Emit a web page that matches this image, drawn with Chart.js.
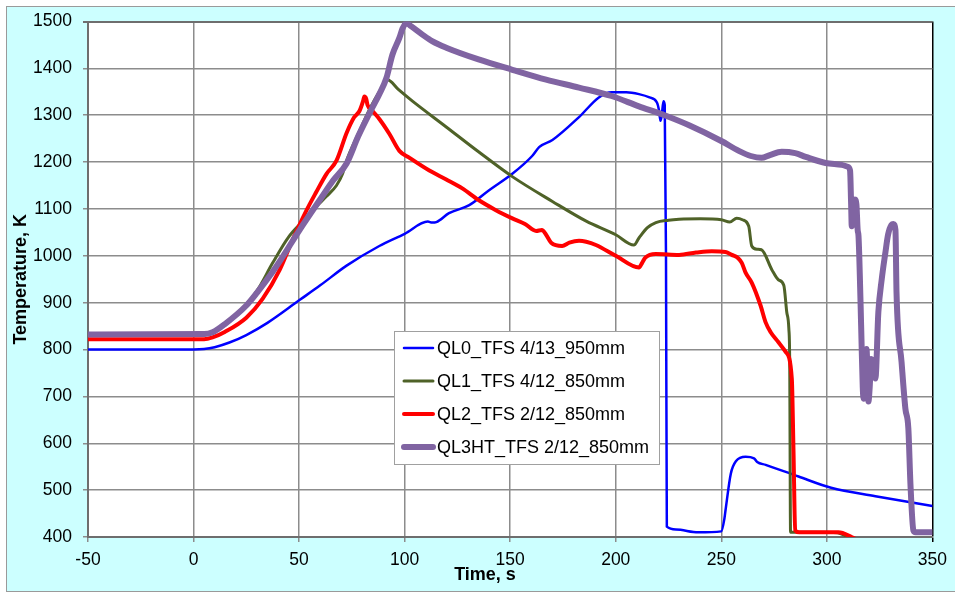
<!DOCTYPE html>
<html>
<head>
<meta charset="utf-8">
<title>Temperature vs Time</title>
<script src="https://cdn.jsdelivr.net/npm/chart.js@4.4.1/dist/chart.umd.min.js"></script>
<style>
  html, body { margin: 0; padding: 0; background: #fff; overflow: hidden; }
  #frame { position: absolute; left: 6px; top: 6px; width: 1000px; height: 584px; background: #ccffff; border: 1px solid #9a9a9a; }
  #wrap { position: absolute; left: 0; top: 0; width: 955px; height: 592px; }
</style>
</head>
<body>
<div id="frame"></div>
<div id="wrap"><canvas id="tempChart"></canvas></div>
<script>
// =========================
// DATA
// =========================
const seriesLabels = ["QL0_TFS 4/13_950mm", "QL1_TFS 4/12_850mm", "QL2_TFS 2/12_850mm", "QL3HT_TFS 2/12_850mm"];

const ql0Time = [-50, 0, 5, 10, 17, 25, 35, 50, 60, 72.5, 88, 100, 111, 113, 115, 121, 130.6, 140, 151, 160.4, 163.7, 170, 182.6, 192, 198, 205, 211, 216, 219.5, 220.5, 221.2, 221.8, 222.6, 223.2, 223.8, 224.2, 228.5, 239, 250, 251.5, 252, 254.5, 257, 261.5, 265.5, 267, 271, 286.6, 302, 323, 350];
const ql0Temp = [800, 800, 801, 805, 815, 831, 857, 905, 937, 979, 1021, 1047, 1073, 1071, 1072, 1091, 1108, 1140, 1175, 1213, 1232, 1247, 1296, 1338, 1349, 1349, 1345, 1338, 1327, 1310, 1288, 1300, 1330, 1322, 1000, 422, 416, 410, 412, 440, 457, 535, 562, 571, 568, 560, 554, 529, 505, 487, 466];

const ql1Time = [-50, 5, 10, 20, 30, 37.5, 45, 52, 59.7, 63, 67.7, 70.6, 72.5, 78, 84, 88, 92, 97, 103.7, 119.7, 135, 151, 170, 186, 200, 208.6, 211, 215, 219, 225, 230, 240, 250, 254, 257.3, 260, 263, 264.4, 267, 269, 274, 277, 279.6, 281, 282, 282.4, 282.8, 295, 305, 310, 320];
const ql1Temp = [830, 831, 840, 872, 925, 985, 1040, 1075, 1112, 1127, 1150, 1175, 1203, 1260, 1318, 1350, 1375, 1355, 1330, 1275, 1222, 1169, 1116, 1074, 1045, 1023, 1038, 1060, 1071, 1076, 1078, 1079, 1077, 1072, 1080, 1077, 1063, 1021, 1014, 1013, 970, 949, 937, 880, 844, 774, 410, 410, 409, 400, 385];

const ql2Time = [-50, 5, 9, 15, 25, 32.7, 40.8, 47, 53.5, 58, 63, 67.7, 72.5, 76, 78.6, 80.3, 80.9, 81.8, 82.4, 84.8, 88, 92.8, 97.5, 102, 111.7, 119.7, 127.3, 135, 143, 151, 157, 162.3, 165, 167, 169.4, 174.6, 178, 182.6, 186, 190.6, 200, 211, 212.5, 214, 219, 230, 238, 245.5, 252, 255, 258, 259.7, 261.5, 264.4, 268.6, 271, 273.4, 277, 280.5, 283.4, 284.2, 285, 287, 305.5, 311.7, 318];
const ql2Temp = [822, 822, 826, 838, 868, 908, 970, 1035, 1097, 1135, 1175, 1203, 1262, 1295, 1309, 1330, 1340, 1335, 1322, 1309, 1292, 1260, 1224, 1210, 1182, 1163, 1144, 1119, 1098, 1080, 1068, 1053, 1055, 1045, 1028, 1021, 1028, 1032, 1030, 1023, 1000, 975, 985, 996, 1004, 1002, 1007, 1010, 1008, 1002, 995, 985, 964, 943, 894, 858, 837, 816, 795, 738, 584, 414, 410, 410, 400, 385];

const ql3Time = [-50, 5, 9, 15, 25, 30, 37.5, 40.8, 50.2, 61, 66, 72.5, 78, 84.8, 88, 91.4, 94.2, 97.5, 99, 100.8, 103, 108.4, 113, 119.7, 135, 151, 167, 182.6, 198, 211, 221.9, 235, 250, 258.3, 264, 269, 273, 278.6, 285, 290, 299.4, 307, 310, 311, 311.5, 311.8, 312.6, 313.3, 314, 314.6, 315, 316, 316.4, 317, 317.4, 318, 318.8, 319.3, 319.7, 320.3, 321, 322, 323, 324.4, 326, 327.7, 329, 330.6, 331.5, 332.5, 333, 335.4, 337.2, 338.6, 339.6, 341, 342, 350];
const ql3Temp = [832, 833, 837, 855, 894, 921, 966, 988, 1055, 1127, 1160, 1197, 1255, 1317, 1345, 1380, 1429, 1465, 1485, 1497, 1490, 1472, 1458, 1444, 1419, 1397, 1376, 1359, 1341, 1319, 1302, 1278, 1245, 1224, 1213, 1209, 1215, 1222, 1219, 1211, 1198, 1194, 1190, 1182, 1110, 1063, 1118, 1120, 1110, 1055, 1042, 894, 822, 720, 695, 760, 801, 740, 689, 720, 780, 770, 738, 880, 950, 1006, 1045, 1066, 1068, 1055, 922, 773, 674, 632, 513, 414, 410, 410];

const xTicks = [-50, 0, 50, 100, 150, 200, 250, 300, 350];
const yTicks = [400, 500, 600, 700, 800, 900, 1000, 1100, 1200, 1300, 1400, 1500];

const FONT = "'Liberation Sans', Arial, Helvetica, sans-serif";

function toPoints(times, temps) {
  return times.map((t, i) => ({ x: t, y: temps[i] }));
}

// =========================
// PLUGINS
// =========================
const plotBackground = {
  id: "plotBackground",
  beforeDraw(chart) {
    const { ctx, chartArea: a } = chart;
    ctx.save();
    ctx.fillStyle = "#ffffff";
    ctx.fillRect(a.left, a.top, a.right - a.left, a.bottom - a.top);
    ctx.restore();
  }
};

const boxLegend = {
  id: "boxLegend",
  afterDraw(chart) {
    const ctx = chart.ctx;
    const box = { x: 394.5, y: 331.5, w: 265, h: 133 };
    ctx.save();
    ctx.fillStyle = "#ffffff";
    ctx.fillRect(box.x, box.y, box.w, box.h);
    ctx.strokeStyle = "#a0a0a0";
    ctx.lineWidth = 1;
    ctx.strokeRect(box.x, box.y, box.w, box.h);
    ctx.font = "18px " + FONT;
    ctx.textBaseline = "middle";
    ctx.textAlign = "left";
    chart.data.datasets.forEach((ds, i) => {
      const y = 348 + i * 33;
      ctx.strokeStyle = ds.borderColor;
      ctx.lineWidth = ds.borderWidth;
      ctx.lineCap = "round";
      ctx.beginPath();
      ctx.moveTo(404, y);
      ctx.lineTo(433, y);
      ctx.stroke();
      ctx.fillStyle = "#000000";
      ctx.fillText(ds.label, 437, y + 1);
    });
    ctx.restore();
  }
};

const xTitle = {
  id: "xTitle",
  afterDraw(chart) {
    const ctx = chart.ctx;
    ctx.save();
    ctx.font = "bold 18px " + FONT;
    ctx.fillStyle = "#000000";
    ctx.textAlign = "center";
    ctx.textBaseline = "middle";
    ctx.fillText("Time, s", 485, 575);
    ctx.restore();
  }
};

// =========================
// RENDER CHART
// =========================
const colors = ["#0000ff", "#4f6228", "#ff0000", "#8064a2"];
const widths = [2.5, 3, 4, 6];
const drawOrder = [4, 3, 2, 1];
const seriesData = [
  toPoints(ql0Time, ql0Temp),
  toPoints(ql1Time, ql1Temp),
  toPoints(ql2Time, ql2Temp),
  toPoints(ql3Time, ql3Temp)
];

new Chart(document.getElementById("tempChart"), {
  type: "line",
  data: {
    datasets: seriesLabels.map((label, i) => ({
      label: label,
      data: seriesData[i],
      borderColor: colors[i],
      backgroundColor: colors[i],
      borderWidth: widths[i],
      pointRadius: 0,
      cubicInterpolationMode: "monotone",
      borderJoinStyle: "round",
      borderCapStyle: "round",
      order: drawOrder[i]
    }))
  },
  options: {
    responsive: true,
    maintainAspectRatio: false,
    animation: false,
    layout: { padding: { left: 0, top: 16, right: 21, bottom: 0 } },
    plugins: {
      legend: { display: false },
      tooltip: { enabled: false }
    },
    scales: {
      x: {
        type: "linear",
        min: -50,
        max: 350,
        afterFit(scale) { scale.height = 55; },
        afterBuildTicks(scale) { scale.ticks = xTicks.map(v => ({ value: v })); },
        grid: {
          color: ctx => ctx.tick && ctx.tick.value === 350 ? "#000000" : "#8c8c8c",
          lineWidth: 1.5,
          tickLength: 5
        },
        border: { color: "#6e6e6e", width: 2 },
        ticks: {
          color: "#000000",
          padding: 8,
          maxRotation: 0,
          callback: v => String(v),
          font: { family: FONT, size: 17.5 }
        }
      },
      y: {
        min: 400,
        max: 1500,
        afterFit(scale) { scale.width = 88; },
        afterBuildTicks(scale) { scale.ticks = yTicks.map(v => ({ value: v })); },
        grid: {
          color: ctx => ctx.tick && ctx.tick.value === 1500 ? "#6e6e6e" : "#8c8c8c",
          lineWidth: ctx => ctx.tick && ctx.tick.value === 1500 ? 2 : 1.5,
          tickLength: 5
        },
        border: { color: "#6e6e6e", width: 2 },
        ticks: {
          color: "#000000",
          padding: 11,
          callback: v => String(v),
          font: { family: FONT, size: 17.5 }
        },
        title: {
          display: true,
          text: "Temperature, K",
          color: "#000000",
          font: { family: FONT, size: 18, weight: "bold" },
          padding: { top: 10, bottom: 0 }
        }
      }
    }
  },
  plugins: [plotBackground, boxLegend, xTitle]
});
</script>
</body>
</html>
